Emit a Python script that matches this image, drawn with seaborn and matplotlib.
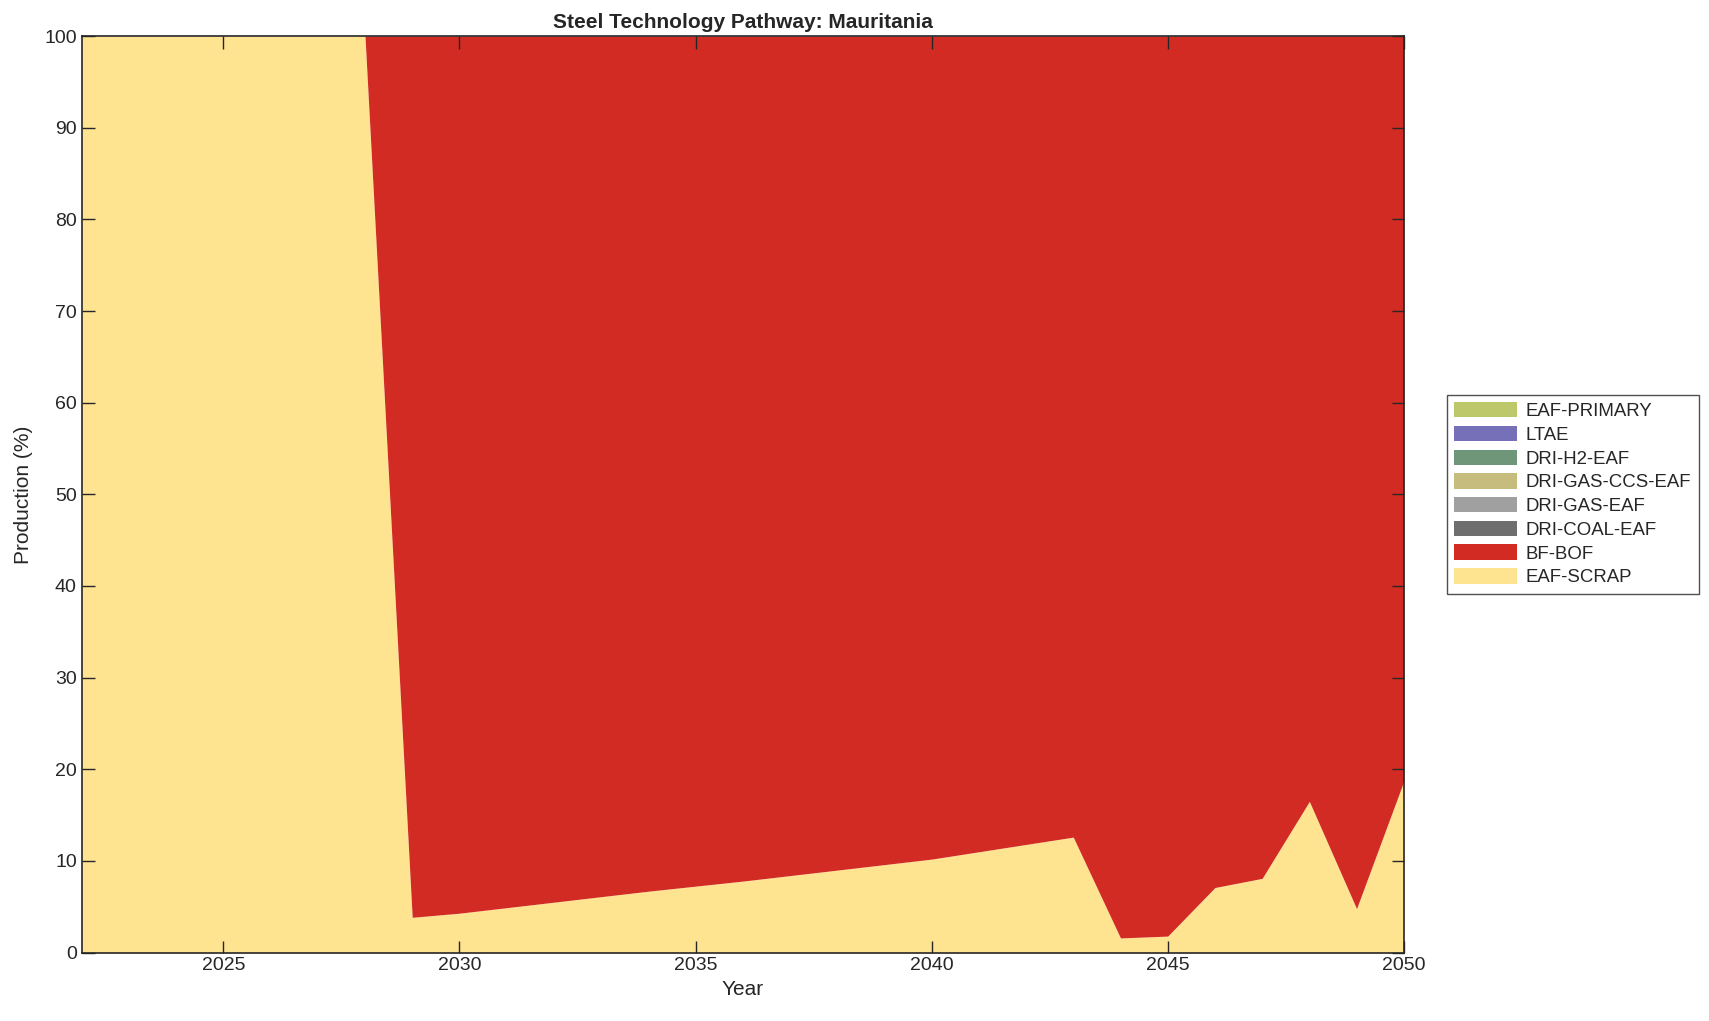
import numpy as np
import seaborn as sns
import matplotlib.pyplot as plt

years = list(range(2022, 2051))

# share of production (%) per year
eaf_scrap = [100, 100, 100, 100, 100, 100, 100,
             3.85, 4.3, 4.9, 5.5, 6.1, 6.7, 7.25, 7.8, 8.4, 9.0, 9.6, 10.2,
             11.0, 11.8, 12.6, 1.6, 1.8, 7.1, 8.1, 16.5, 4.8, 18.7]
bf_bof = [100 - v for v in eaf_scrap]
zeros = [0] * len(years)
dri_coal_eaf = zeros
dri_gas_eaf = zeros
dri_gas_ccs_eaf = zeros
dri_h2_eaf = zeros
ltae = zeros
eaf_primary = zeros

techs = ['EAF-SCRAP', 'BF-BOF', 'DRI-COAL-EAF', 'DRI-GAS-EAF',
         'DRI-GAS-CCS-EAF', 'DRI-H2-EAF', 'LTAE', 'EAF-PRIMARY']
colors = ['#FEE391', '#D22B24', '#6E6E6E', '#A0A0A0',
          '#C5BC7E', '#70967A', '#7570B8', '#BDC86A']

sns.set_style('ticks')
plt.rcParams['font.family'] = ['Liberation Sans', 'DejaVu Sans']

fig = plt.figure(figsize=(17.09, 10.21), dpi=100)
ax = fig.add_axes([0.0478, 0.067, 0.7736, 0.8977])

series = [eaf_scrap, bf_bof, dri_coal_eaf, dri_gas_eaf,
          dri_gas_ccs_eaf, dri_h2_eaf, ltae, eaf_primary]
ax.stackplot(years, np.array(series), labels=techs, colors=colors, linewidth=0)
ax.set_axisbelow(False)

ax.set_xlim(2022, 2050)
ax.set_ylim(0, 100)
ax.set_xticks([2025, 2030, 2035, 2040, 2045, 2050])
ax.set_yticks(range(0, 101, 10))
ax.tick_params(direction='in', top=True, right=True, labelsize=14, length=9,
               width=1, colors='#262626', labelcolor='#262626')
for s in ax.spines.values():
    s.set_linewidth(1.2)
    s.set_color('#262626')
    s.set_zorder(5)
ax.set_xlabel('Year', fontsize=15, labelpad=4)
ax.set_ylabel('Production (%)', fontsize=15, labelpad=8)
ax.set_title('Steel Technology Pathway: Mauritania', fontsize=15,
             fontweight='bold', pad=6)

handles, labels = ax.get_legend_handles_labels()
leg = fig.legend(handles[::-1], labels[::-1], loc='center left',
                 bbox_to_anchor=(0.8465, 0.516), borderaxespad=0,
                 fontsize=13.4, frameon=True,
                 fancybox=False, edgecolor='#262626', handlelength=3.4,
                 handleheight=0.9, labelspacing=0.3, borderpad=0.4,
                 handletextpad=0.45)
leg.get_frame().set_linewidth(1.0)

fig.savefig('out.png', dpi=100)
